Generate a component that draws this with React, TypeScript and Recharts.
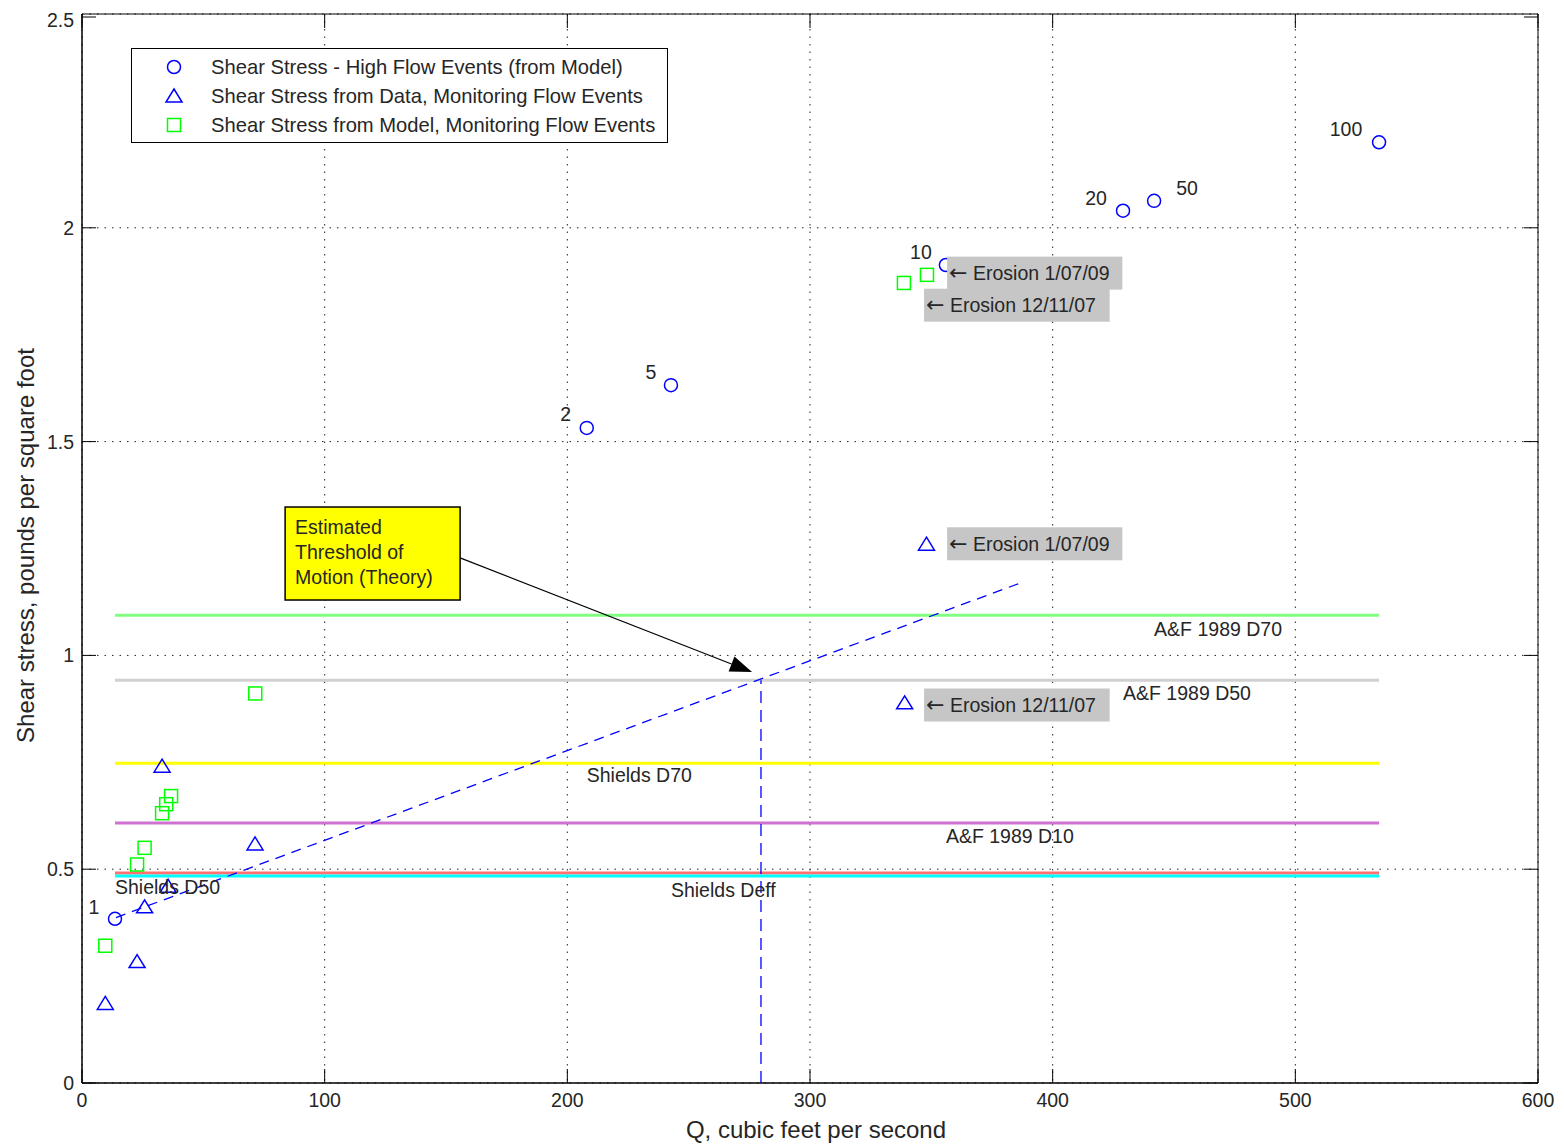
import React from "react";
import {
  ComposedChart,
  Scatter,
  XAxis,
  YAxis,
  CartesianGrid,
  ReferenceLine,
  ReferenceDot,
  ReferenceArea,
  Legend,
} from "recharts";

const FONT = '"Liberation Sans", Arial, Helvetica, sans-serif';
const INK = "#262626";
const FS = 19.5;

// shear stress at high flow events (model), labelled by return period
const highFlowQ = [13.6, 208, 242.7, 356, 429, 441.8, 534.5];
const highFlowTau = [0.384, 1.532, 1.632, 1.913, 2.04, 2.063, 2.2];
const returnPeriods = ["1", "2", "5", "10", "20", "50", "100"];

// shear stress from data, monitoring flow events
const dataQ = [9.6, 22.7, 25.8, 33, 35.5, 71.3, 339, 348];
const dataTau = [0.186, 0.284, 0.412, 0.741, 0.46, 0.559, 0.889, 1.26];

// shear stress from model, monitoring flow events
const modelQ = [9.6, 22.7, 25.8, 33, 34.7, 36.7, 71.4, 338.7, 348.2];
const modelTau = [0.321, 0.511, 0.55, 0.631, 0.652, 0.671, 0.911, 1.871, 1.89];

// critical shear thresholds
const thresholdNames = ["A&F 1989 D70", "A&F 1989 D50", "Shields D70", "A&F 1989 D10", "Shields D50", "Shields Deff"];
const thresholdTau = [1.094, 0.942, 0.748, 0.608, 0.491, 0.484];
const thresholdColors = ["#80ff80", "#d0d0d0", "#ffff00", "#d070d0", "#ff7070", "#00ffff"];
const thresholdLabelQ = [441.8, 429, 208, 356, 13.6, 242.7];
const thresholdLabelTau = [1.062, 0.912, 0.72, 0.578, 0.458, 0.451];
const thresholdRange = [13.6, 534.5];

// estimated threshold of motion (theory)
const theoryQ = [14, 387];
const theoryTau = [0.387, 1.17];
const thresholdQ = 279.8;

// erosion notes
const erosionText = ["Erosion 1/07/09", "Erosion 12/11/07", "Erosion 1/07/09", "Erosion 12/11/07"];
const erosionQ = [356.5, 347, 356.5, 347];
const erosionTau = [1.894, 1.819, 1.261, 0.884];

const noteLines = ["Estimated", "Threshold of", "Motion (Theory)"];
const noteAt = { q: 83.7, tau: 1.347 };
const arrowFrom = { q: 155.8, tau: 1.228 };
const arrowTo = { q: 276.1, tau: 0.961 };

const qTicks = [0, 100, 200, 300, 400, 500, 600];
const tauTicks = [0, 0.5, 1, 1.5, 2, 2.5];

// pixel offsets of the return period labels
const periodDx = [-21, -21, -20, -25, -27, 33, -33];
const periodDy = [-12, -14, -13, -13, -13, -13, -13];

const W = 1548;
const H = 1139;
const M = { top: 6, right: 18, left: 0, bottom: 0 };
const Y_AXIS_W = 74;
const X_AXIS_H = 64;
const PLOT_W = W - M.right - M.left - Y_AXIS_W;
const PLOT_H = H - M.top - M.bottom - X_AXIS_H;
const TICK = 14;

const toPoints = (qs: number[], taus: number[]) => qs.map((q, i) => ({ q, tau: taus[i] }));

const CircleMark = ({ cx, cy }: any) => (
  <circle cx={cx} cy={cy} r={6.5} fill="none" stroke="#0000ff" strokeWidth={1.5} />
);
const TriangleMark = ({ cx, cy }: any) => (
  <polygon
    points={`${cx},${cy - 7} ${cx + 8},${cy + 6} ${cx - 8},${cy + 6}`}
    fill="none"
    stroke="#0000ff"
    strokeWidth={1.5}
  />
);
const SquareMark = ({ cx, cy }: any) => (
  <rect x={cx - 6.5} y={cy - 6.5} width={13} height={13} fill="none" stroke="#00ff00" strokeWidth={1.5} />
);

const txt = { fontFamily: FONT, fontSize: FS, fill: INK };

// ticks point inward, and are mirrored on the top / right edges
const BottomTick = ({ x, y, payload }: any) => (
  <g>
    <line x1={x} y1={y} x2={x} y2={y - TICK} stroke="#000" />
    <line x1={x} y1={y - PLOT_H} x2={x} y2={y - PLOT_H + TICK} stroke="#000" />
    <text x={x} y={y + 24} textAnchor="middle" {...txt}>
      {payload.value}
    </text>
  </g>
);
const LeftTick = ({ x, y, payload }: any) => (
  <g>
    <line x1={x} y1={y} x2={x + TICK} y2={y} stroke="#000" />
    <line x1={x + PLOT_W} y1={y} x2={x + PLOT_W - TICK} y2={y} stroke="#000" />
    <text x={x - 8} y={y + 7 + (payload.value === 2.5 ? 3 : 0)} textAnchor="end" {...txt}>
      {payload.value}
    </text>
  </g>
);

const Arrow = ({ x1, y1, x2, y2 }: any) => {
  const a = Math.atan2(y2 - y1, x2 - x1);
  const len = 22;
  const w = 8;
  const bx = x2 - len * Math.cos(a);
  const by = y2 - len * Math.sin(a);
  const px = -Math.sin(a) * w;
  const py = Math.cos(a) * w;
  return (
    <g>
      <line x1={x1} y1={y1} x2={bx} y2={by} stroke="#000" strokeWidth={1.2} />
      <polygon points={`${x2},${y2} ${bx + px},${by + py} ${bx - px},${by - py}`} fill="#000" />
    </g>
  );
};

const LegendBox = () => {
  const rows = [
    { label: "Shear Stress - High Flow Events (from Model)", Mark: CircleMark },
    { label: "Shear Stress from Data, Monitoring Flow Events", Mark: TriangleMark },
    { label: "Shear Stress from Model, Monitoring Flow Events", Mark: SquareMark },
  ];
  return (
    <svg width={537} height={95} style={{ display: "block" }}>
      <rect x={0.5} y={0.5} width={536} height={94} fill="#fff" stroke="#000" strokeWidth={1} />
      {rows.map((r, i) => (
        <g key={r.label}>
          <r.Mark cx={43} cy={19 + i * 29} />
          <text x={80} y={19 + i * 29 + 7} {...txt} fontSize={20.2}>
            {r.label}
          </text>
        </g>
      ))}
    </svg>
  );
};

export default function App() {
  const highFlow = toPoints(highFlowQ, highFlowTau);
  const data = toPoints(dataQ, dataTau);
  const model = toPoints(modelQ, modelTau);

  return (
    <div style={{ width: W, height: H }}>
      <ComposedChart width={W} height={H} margin={M}>
        <CartesianGrid stroke="#222" strokeDasharray="1.5 6" />
        <XAxis
          type="number"
          dataKey="q"
          domain={[0, 600]}
          ticks={qTicks}
          height={X_AXIS_H}
          tickSize={0}
          tickMargin={0}
          tick={<BottomTick />}
          axisLine={{ stroke: "#000" }}
          allowDataOverflow
          label={{
            content: ({ viewBox }: any) => (
              <text x={viewBox.x + viewBox.width / 2 + 6} y={viewBox.y + 55} textAnchor="middle" {...txt} fontSize={24}>
                Q, cubic feet per second
              </text>
            ),
          }}
        />
        <YAxis
          type="number"
          dataKey="tau"
          domain={[0, 2.5]}
          ticks={tauTicks}
          width={Y_AXIS_W}
          tickSize={0}
          tickMargin={0}
          tick={<LeftTick />}
          axisLine={{ stroke: "#000" }}
          allowDataOverflow
          label={{
            content: ({ viewBox }: any) => {
              const cx = 17;
              const cy = viewBox.y + viewBox.height / 2 - 3;
              return (
                <text
                  x={cx}
                  y={cy}
                  transform={`rotate(-90 ${cx} ${cy})`}
                  textAnchor="middle"
                  dominantBaseline="central"
                  {...txt}
                  fontSize={24}
                >
                  Shear stress, pounds per square foot
                </text>
              );
            },
          }}
        />

        <ReferenceArea x1={0} x2={600} y1={0} y2={2.5} fill="none" stroke="#000" strokeWidth={1} />

        {thresholdTau.map((t, i) => (
          <ReferenceLine
            key={thresholdNames[i]}
            segment={[
              { x: thresholdRange[0], y: t },
              { x: thresholdRange[1], y: t },
            ]}
            stroke={thresholdColors[i]}
            strokeWidth={3}
          />
        ))}

        <ReferenceLine
          segment={[
            { x: theoryQ[0], y: theoryTau[0] },
            { x: theoryQ[1], y: theoryTau[1] },
          ]}
          stroke="#0000ff"
          strokeWidth={1.3}
          strokeDasharray="10 7"
        />
        <ReferenceLine
          segment={[
            { x: thresholdQ, y: 0 },
            { x: thresholdQ, y: thresholdTau[1] },
          ]}
          stroke="#0000ff"
          strokeWidth={1.3}
          strokeDasharray="12 7"
        />

        <Scatter name="Shear Stress - High Flow Events (from Model)" data={highFlow} shape={<CircleMark />} isAnimationActive={false} />
        <Scatter name="Shear Stress from Data, Monitoring Flow Events" data={data} shape={<TriangleMark />} isAnimationActive={false} />
        <Scatter name="Shear Stress from Model, Monitoring Flow Events" data={model} shape={<SquareMark />} isAnimationActive={false} />

        {thresholdNames.map((name, i) => (
          <ReferenceDot
            key={`lbl-${name}`}
            x={thresholdLabelQ[i]}
            y={thresholdLabelTau[i]}
            r={0}
            shape={(p: any) => (
              <text x={p.cx} y={p.cy + 7} {...txt}>
                {name}
              </text>
            )}
          />
        ))}

        {returnPeriods.map((rp, i) => (
          <ReferenceDot
            key={`rp-${rp}`}
            x={highFlowQ[i]}
            y={highFlowTau[i]}
            r={0}
            shape={(p: any) => (
              <text x={p.cx + periodDx[i]} y={p.cy + periodDy[i] + 7} textAnchor="middle" {...txt}>
                {rp}
              </text>
            )}
          />
        ))}

        {erosionText.map((t, i) => (
          <ReferenceDot
            key={`ero-${i}`}
            x={erosionQ[i]}
            y={erosionTau[i]}
            r={0}
            shape={(p: any) => (
              <g>
                <rect x={p.cx} y={p.cy - 16.5} width={t.length * 10.35 + 20} height={33} fill="#c6c6c6" />
                <text x={p.cx + 2} y={p.cy + 7} {...txt}>
                  <tspan fontFamily='"DejaVu Sans", sans-serif' fontSize={22}>
                    {"\u2190"}
                  </tspan>
                  {" " + t}
                </text>
              </g>
            )}
          />
        ))}

        <ReferenceLine
          segment={[
            { x: arrowFrom.q, y: arrowFrom.tau },
            { x: arrowTo.q, y: arrowTo.tau },
          ]}
          shape={(p: any) => <Arrow {...p} />}
        />
        <ReferenceDot
          x={noteAt.q}
          y={noteAt.tau}
          r={0}
          shape={(p: any) => (
            <g>
              <rect x={p.cx} y={p.cy} width={175} height={93} fill="#ffff00" stroke="#000" strokeWidth={1.5} />
              {noteLines.map((l, i) => (
                <text key={l} x={p.cx + 10} y={p.cy + 27 + i * 25} {...txt}>
                  {l}
                </text>
              ))}
            </g>
          )}
        />

        <Legend
          layout="vertical"
          align="center"
          verticalAlign="middle"
          wrapperStyle={{ left: 123, top: 40, width: "auto", height: "auto" }}
          content={() => <LegendBox />}
        />
      </ComposedChart>
    </div>
  );
}
